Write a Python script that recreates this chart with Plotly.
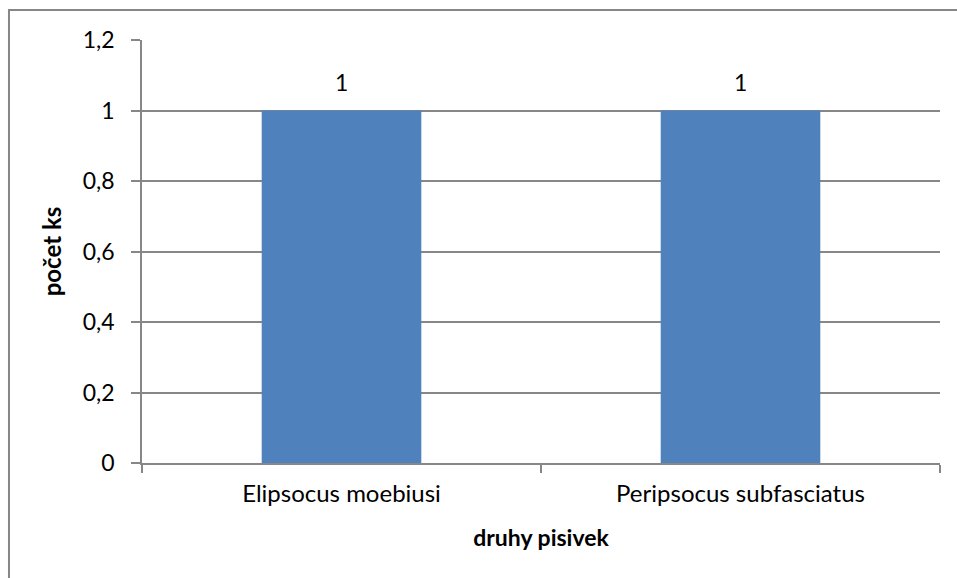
import plotly.graph_objects as go

categories = ["Elipsocus moebiusi", "Peripsocus subfasciatus"]
values = [1, 1]
y_ticks = [0, 0.2, 0.4, 0.6, 0.8, 1, 1.2]

FONT = "Lato"
GRID = "#878787"
FS = 23

fig = go.Figure()
fig.add_trace(go.Bar(
    x=categories, y=values, width=0.4,
    marker=dict(color="#4F81BD", line=dict(width=0)),
    hoverinfo="skip",
))

for c, v in zip(categories, values):
    fig.add_annotation(x=c, y=v, text=str(v).replace(".", ","), showarrow=False,
                       yanchor="bottom", yshift=13,
                       font=dict(family=FONT, size=FS, color="black"))

fig.update_layout(
    width=957, height=578,
    margin=dict(l=142, r=17, t=40, b=115),
    paper_bgcolor="white", plot_bgcolor="white",
    separators=", ",
    showlegend=False,
    font=dict(family=FONT, size=FS, color="black"),
    xaxis=dict(
        type="category", showgrid=False, showline=True, linecolor=GRID, linewidth=1.5,
        ticks="outside", tickson="boundaries", ticklen=8, tickcolor=GRID, tickwidth=1.5,
        tickfont=dict(family=FONT, size=FS + 1), ticklabelstandoff=8,
        title=dict(text="<b>druhy pisivek</b>", font=dict(family=FONT, size=FS), standoff=24),
    ),
    yaxis=dict(
        range=[0, 1.2], tickvals=y_ticks, showgrid=True, gridcolor=GRID, gridwidth=1.5,
        showline=True, linecolor=GRID, linewidth=1.5, zeroline=False,
        ticks="outside", ticklen=9, tickcolor=GRID, tickwidth=1.5,
        tickfont=dict(family=FONT, size=FS), ticklabelstandoff=12,
        title=dict(text="<b>počet ks</b>", font=dict(family=FONT, size=FS + 1), standoff=14),
    ),
    shapes=[dict(type="rect", xref="paper", yref="paper",
                 x0=-0.1667, x1=1.2, y0=-0.4, y1=1.0709,
                 line=dict(color="#868686", width=2), layer="below")],
)

fig.write_html("out.html", config={"displayModeBar": False},
               post_script="document.body.style.margin='0';document.body.style.overflow='hidden';")
